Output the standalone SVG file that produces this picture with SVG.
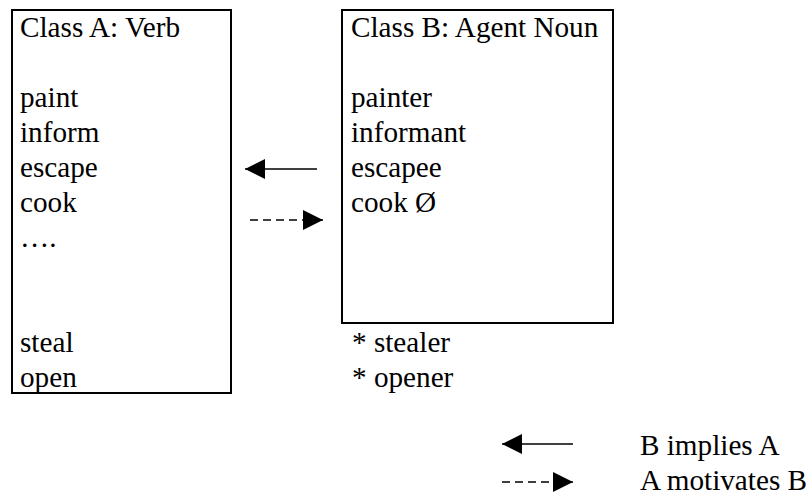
<svg xmlns="http://www.w3.org/2000/svg" width="812" height="496" viewBox="0 0 812 496">
  <style>
    text { font-family: "Liberation Serif", "Times New Roman", "DejaVu Serif", serif; font-size: 29.2px; fill: #000; }
    .box { fill: #fff; stroke: #000; stroke-width: 2; }
    .solid { stroke: #000; stroke-width: 1.6; fill: none; }
    .dashed { stroke: #000; stroke-width: 1.6; fill: none; stroke-dasharray: 8 5; }
  </style>
  <defs>
    <marker id="head" markerUnits="userSpaceOnUse" viewBox="0 0 20 22" refX="20" refY="11" markerWidth="20" markerHeight="22" orient="auto">
      <polygon points="0,1 20,11 0,21" fill="#000"/>
    </marker>
  </defs>
  <rect width="812" height="496" fill="#fff"/>

  <!-- Class A: verbs -->
  <g id="class-a">
    <rect class="box" x="12" y="10" width="219" height="383"/>
    <text x="20" y="37">Class A: Verb</text>
    <text x="20" y="107">paint</text>
    <text x="20" y="142">inform</text>
    <text x="20" y="177">escape</text>
    <text x="20" y="212">cook</text>
    <text x="20" y="247">….</text>
    <text x="20" y="352">steal</text>
    <text x="20" y="387">open</text>
  </g>

  <!-- Class B: agent nouns -->
  <g id="class-b">
    <rect class="box" x="342" y="10" width="271" height="313"/>
    <text x="351" y="37">Class B: Agent Noun</text>
    <text x="351" y="107">painter</text>
    <text x="351" y="142">informant</text>
    <text x="351" y="177">escapee</text>
    <text x="351" y="212">cook Ø</text>
  </g>

  <!-- unattested forms below class B -->
  <g id="unattested">
    <text x="352" y="352">* stealer</text>
    <text x="352" y="387">* opener</text>
  </g>

  <!-- relations between the classes -->
  <g id="connectors">
    <line class="solid" x1="317" y1="169" x2="245" y2="169" marker-end="url(#head)"/>
    <line class="dashed" x1="250" y1="220" x2="323" y2="220" marker-end="url(#head)"/>
  </g>

  <!-- legend -->
  <g id="legend">
    <line class="solid" x1="573" y1="444" x2="502" y2="444" marker-end="url(#head)"/>
    <line class="dashed" x1="502" y1="482" x2="573" y2="482" marker-end="url(#head)"/>
    <text x="640" y="455">B implies A</text>
    <text x="640" y="490">A motivates B</text>
  </g>
</svg>
